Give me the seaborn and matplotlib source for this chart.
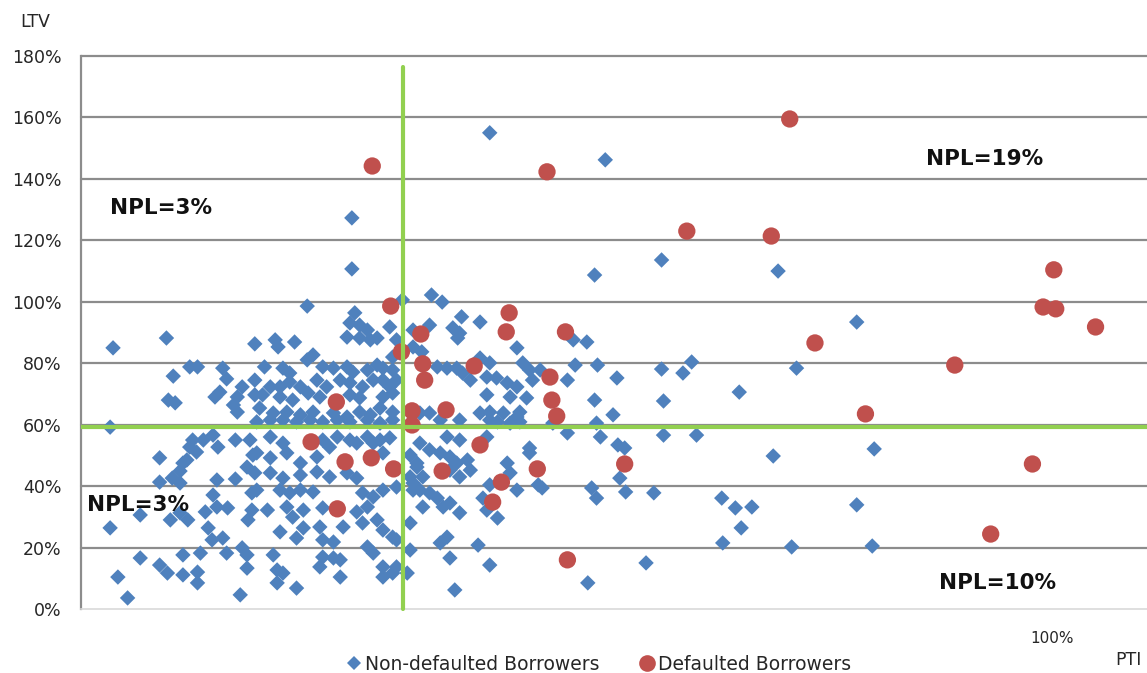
import numpy as np
import pandas as pd
import matplotlib
matplotlib.use("Agg")
import matplotlib.pyplot as plt
import seaborn as sns
from matplotlib.lines import Line2D

# PTI (%) and LTV (%)
blue_pti = [3.3, 3.0, 3.0, 3.8, 4.8, 6.1, 6.1, 8.1, 8.9, 8.1,
            8.1, 8.8, 9.5, 9.7, 9.0, 9.4, 10.2, 10.2, 10.9, 9.2,
            10.2, 11.0, 10.5, 10.5, 11.2, 12.0, 11.5, 12.6, 11.2, 11.9,
            10.5, 13.6, 14.1, 12.3, 12.0, 12.0, 12.8, 13.1, 13.5, 13.6,
            14.0, 14.0, 14.6, 15.0, 14.3, 13.8, 14.6, 15.0, 15.1, 15.9,
            15.9, 16.6, 16.1, 15.7, 16.1, 17.9, 17.9, 17.9, 18.1, 17.7,
            17.1, 17.9, 17.6, 17.6, 17.2, 16.6, 17.1, 17.1, 16.4, 17.4,
            23.3, 20.0, 20.3, 22.0, 28.2, 27.7, 28.7, 29.5, 27.4, 28.7,
            29.8, 30.5, 31.8, 32.5, 32.1, 23.9, 23.3, 18.9, 20.8, 21.5,
            24.9, 26.0, 27.4, 28.0, 29.5, 30.5, 31.1, 32.1, 19.5, 20.5,
            21.5, 22.6, 24.3, 25.3, 26.7, 27.7, 29.0, 30.1, 31.1, 31.8,
            32.5, 18.7, 20.5, 21.8, 23.4, 24.6, 27.7, 28.7, 31.1, 32.1,
            18.4, 19.8, 21.2, 22.6, 23.9, 26.0, 27.4, 28.7, 29.8, 30.8,
            32.1, 19.5, 20.8, 22.2, 23.6, 24.9, 26.4, 27.7, 29.5, 30.8,
            32.1, 19.5, 20.8, 24.9, 26.4, 27.7, 29.5, 30.8, 31.8, 18.1,
            19.5, 21.2, 22.6, 24.3, 25.6, 28.4, 30.1, 31.1, 33.9, 34.6,
            19.5, 20.8, 22.6, 24.3, 25.6, 27.4, 28.4, 18.1, 20.5, 21.5,
            22.6, 23.9, 29.0, 30.1, 31.1, 32.5, 34.2, 33.9, 19.2, 21.2,
            21.8, 22.9, 24.9, 28.4, 29.5, 29.0, 20.5, 22.9, 22.2, 24.6,
            27.0, 30.5, 31.1, 32.1, 33.9, 24.9, 26.0, 29.5, 30.1, 32.5,
            33.9, 19.8, 24.9, 26.0, 26.7, 20.2, 20.8, 24.6, 26.7, 31.1,
            32.5, 33.6, 20.2, 22.2, 31.1, 32.1, 36.1, 37.2, 52.9, 39.2,
            41.1, 35.9, 34.2, 38.3, 39.0, 38.8, 44.9, 50.7, 52.1, 35.1,
            34.2, 45.5, 46.2, 41.1, 42.1, 36.7, 37.7, 38.7, 39.3, 40.1,
            41.8, 42.8, 43.9, 44.9, 46.5, 47.3, 50.1, 50.9, 53.2, 55.2,
            41.8, 44.2, 45.9, 52.9, 41.1, 42.1, 43.5, 45.2, 44.9, 35.9,
            34.9, 37.0, 39.0, 42.1, 42.9, 44.2, 45.2, 48.6, 53.1, 54.8,
            50.1, 53.5, 34.9, 37.7, 39.0, 41.8, 46.2, 35.9, 37.0, 38.0,
            38.7, 39.8, 40.1, 39.0, 38.0, 34.6, 35.2, 34.2, 34.9, 35.9,
            36.7, 38.0, 37.3, 35.2, 39.0, 43.9, 44.2, 46.2, 42.1, 41.4,
            41.8, 42.9, 44.9, 47.1, 47.5, 52.6, 53.1, 37.7, 37.0, 40.9,
            38.0, 42.1, 38.5, 52.2, 55.3, 79.9, 59.8, 62.0, 62.9, 73.7,
            67.8, 60.0, 60.0, 63.4, 56.0, 81.7, 71.3, 55.5, 56.1, 59.0,
            66.0, 67.4, 69.1, 79.9, 68.0, 66.1, 73.2, 81.5, 58.2, 71.8,
            59.8, 54.0, 42.1, 27.9, 27.9, 33.1]
blue_ltv = [85.0, 59.2, 26.4, 10.4, 3.6, 30.6, 16.6, 14.3, 11.7, 49.2,
            41.3, 88.2, 75.8, 67.1, 68.0, 42.6, 44.9, 41.0, 48.5, 29.0,
            31.3, 29.0, 17.6, 11.1, 78.8, 78.8, 55.0, 55.0, 52.7, 51.1,
            47.5, 56.6, 52.7, 18.2, 12.0, 8.5, 31.6, 26.4, 22.5, 37.1,
            33.2, 42.0, 78.4, 74.9, 70.6, 69.0, 23.1, 18.2, 32.9, 42.3,
            55.0, 72.3, 69.0, 66.4, 64.1, 74.5, 69.7, 86.3, 60.9, 50.1,
            46.2, 44.3, 37.8, 32.2, 29.0, 19.9, 17.6, 13.3, 4.6, 55.0,
            98.6, 87.6, 85.3, 86.9, 96.4, 93.1, 92.4, 90.8, 88.5, 88.2,
            87.6, 88.2, 91.8, 87.6, 82.0, 82.7, 81.1, 78.8, 78.4, 76.8,
            78.8, 78.4, 78.8, 77.1, 77.8, 79.4, 78.4, 77.8, 72.3, 72.3,
            73.9, 72.3, 74.5, 72.3, 74.5, 73.6, 72.3, 74.5, 74.5, 72.3,
            74.5, 69.7, 69.0, 68.0, 70.3, 69.0, 69.7, 68.7, 69.0, 70.3,
            65.4, 63.8, 64.1, 63.2, 64.1, 63.8, 62.5, 64.1, 63.2, 65.4,
            64.1, 61.5, 61.5, 60.9, 61.5, 60.9, 61.5, 60.9, 61.5, 60.5,
            61.5, 56.0, 54.0, 55.0, 56.0, 55.0, 56.0, 55.0, 55.7, 50.8,
            49.2, 50.8, 47.5, 49.5, 52.7, 54.0, 54.0, 50.8, 50.1, 46.2,
            44.3, 42.6, 43.6, 44.6, 43.0, 44.3, 42.6, 38.7, 38.7, 37.8,
            38.7, 38.1, 37.8, 36.5, 38.7, 39.7, 38.7, 43.0, 32.2, 33.2,
            29.9, 32.2, 32.9, 31.6, 33.2, 28.0, 25.1, 26.4, 23.1, 26.7,
            26.7, 29.0, 25.7, 23.4, 28.0, 22.5, 21.8, 20.2, 18.2, 22.5,
            19.2, 17.6, 16.9, 16.6, 16.0, 12.7, 11.7, 13.7, 10.4, 13.7,
            13.7, 11.7, 8.5, 6.8, 10.4, 11.7, 102.2, 99.9, 108.7, 95.1,
            93.4, 92.4, 90.8, 91.5, 89.8, 88.2, 85.0, 87.6, 86.9, 83.7,
            85.3, 80.1, 77.8, 81.7, 80.1, 78.8, 78.4, 78.4, 76.8, 74.5,
            75.5, 75.2, 73.6, 72.3, 74.5, 77.8, 74.5, 79.4, 79.4, 75.2,
            69.7, 69.0, 68.7, 68.0, 63.8, 64.1, 63.8, 64.1, 62.5, 63.8,
            63.8, 61.5, 61.5, 61.5, 60.9, 60.5, 60.9, 60.5, 60.5, 63.2,
            57.3, 56.0, 54.0, 56.0, 55.0, 56.0, 52.4, 51.8, 50.8, 49.5,
            47.5, 48.5, 45.2, 43.0, 45.2, 47.5, 43.0, 41.0, 38.7, 37.8,
            36.1, 34.5, 33.2, 33.2, 31.3, 47.5, 44.3, 50.8, 40.4, 36.1,
            32.2, 29.6, 38.7, 40.4, 39.4, 39.4, 36.1, 23.4, 21.5, 20.8,
            16.6, 14.3, 6.2, 8.5, 53.4, 93.4, 78.1, 76.8, 80.4, 78.4,
            70.6, 67.7, 56.6, 56.6, 52.4, 52.1, 49.8, 42.6, 38.1, 37.8,
            36.1, 32.9, 33.2, 33.9, 26.4, 21.5, 20.2, 20.5, 15.0, 110.0,
            113.6, 146.2, 155.0, 127.3, 110.7, 100.6]

red_pti = [30.0, 48.0, 73.0, 62.4, 71.1, 100.2, 99.1, 100.4, 104.5, 75.6,
           90.0, 80.8, 98.0, 93.7, 50.1, 56.0, 31.9, 35.0, 44.1, 43.8,
           49.9, 33.0, 35.2, 35.4, 40.5, 48.3, 48.5, 49.0, 26.3, 37.6,
           34.1, 34.1, 23.7, 41.1, 27.2, 29.9, 32.2, 37.2, 47.0, 43.3,
           42.4, 26.4]
red_ltv = [144.2, 142.3, 159.5, 123.0, 121.4, 110.4, 98.3, 97.7, 91.8, 86.6,
           79.4, 63.5, 47.2, 24.4, 16.0, 47.2, 98.6, 89.5, 96.4, 90.2,
           90.2, 83.7, 79.8, 74.5, 79.1, 75.5, 68.0, 62.8, 67.4, 64.8,
           64.5, 59.9, 54.4, 53.4, 47.9, 49.2, 45.6, 44.9, 45.6, 41.3,
           34.8, 32.6]

pti_cut = 33.2
ltv_cut = 59.2
y_ticks = [0, 20, 40, 60, 80, 100, 120, 140, 160, 180]

npl_labels = ["NPL=3%", "NPL=19%", "NPL=3%", "NPL=10%"]
npl_pos = [(3.0, 130.5), (87.0, 146.5), (0.6, 34.0), (88.4, 8.5)]

blue_col = "#4F81BD"
red_col = "#C0504D"
green_col = "#92D050"
grid_col = "#8C8C8C"

df_blue = pd.DataFrame({"PTI": blue_pti, "LTV": blue_ltv})
df_red = pd.DataFrame({"PTI": red_pti, "LTV": red_ltv})

sns.set_style("white")
plt.rcParams["font.family"] = ["DejaVu Sans"]

fig = plt.figure(figsize=(11.47, 6.73), dpi=100)
ax = fig.add_axes([81 / 1147, 64 / 673, 1 - 81 / 1147, 553 / 673])

sns.scatterplot(data=df_blue, x="PTI", y="LTV", marker="D", s=62, color=blue_col,
                edgecolor="none", linewidth=0, ax=ax, zorder=3)
sns.scatterplot(data=df_red, x="PTI", y="LTV", marker="o", s=155, color=red_col,
                edgecolor="none", linewidth=0, ax=ax, zorder=4)

# threshold lines
ax.axhline(ltv_cut, color=green_col, lw=3, zorder=5)
ax.plot([pti_cut, pti_cut], [0, 176.5], color=green_col, lw=3, zorder=5, clip_on=False)

ax.set_xlim(0, 109.8)
ax.set_ylim(0, 180)
ax.set_yticks(y_ticks)
ax.set_yticklabels([f"{t}%" for t in y_ticks], fontsize=12.5)
ax.set_xticks([100])
ax.set_xticklabels(["100%"], fontsize=11)
ax.tick_params(axis="y", length=0, pad=14)
ax.tick_params(axis="x", length=0, pad=16)
ax.set_xlabel("")
ax.set_ylabel("")

for t in y_ticks[1:]:
    ax.axhline(t, color=grid_col, lw=1.6, zorder=1, clip_on=False)

for side in ["top", "right"]:
    ax.spines[side].set_visible(False)
ax.spines["left"].set_color(grid_col)
ax.spines["left"].set_linewidth(1.6)
ax.spines["bottom"].set_color("#D9D9D9")
ax.spines["bottom"].set_linewidth(1.2)

for lab, (px, py) in zip(npl_labels, npl_pos):
    ax.text(px, py, lab, fontsize=15.5, fontweight="bold", color="#111111",
            va="center", ha="left", zorder=6)

fig.text(20 / 1147, 1 - 22 / 673, "LTV", fontsize=12.5, va="center", ha="left")
fig.text(1115 / 1147, 1 - 660 / 673, "PTI", fontsize=12.5, va="center", ha="left")

handles = [Line2D([], [], marker="D", ls="", color=blue_col, markersize=7.5, markeredgewidth=0),
           Line2D([], [], marker="o", ls="", color=red_col, markersize=12, markeredgewidth=0)]
fig.legend(handles, ["Non-defaulted Borrowers", "Defaulted Borrowers"], ncol=2,
           loc="center", bbox_to_anchor=(598 / 1147, 1 - 664 / 673), frameon=False,
           fontsize=13.5, handletextpad=0.1, columnspacing=2.0, handlelength=1.0)

plt.savefig("out.png", dpi=100)
